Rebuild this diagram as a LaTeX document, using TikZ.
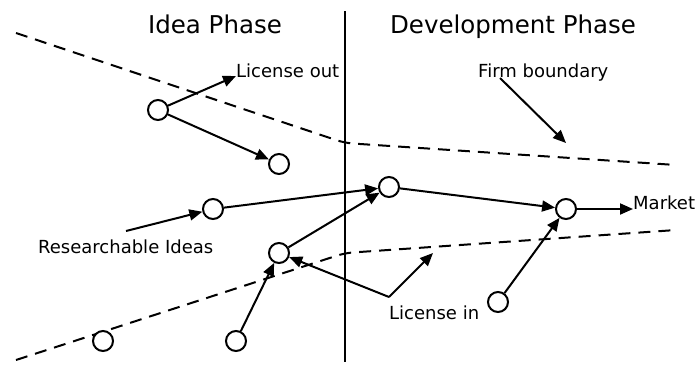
\documentclass[tikz,border=0pt]{standalone}
\usepackage{fontspec}
\setmainfont{DejaVu Sans}
\usetikzlibrary{arrows.meta}
\newcommand{\unitsize}{1pt}
\newcommand{\labelfont}{\fontsize{18}{21}\selectfont}
\newcommand{\titlefont}{\fontsize{24.5}{29}\selectfont}
\tikzset{
	idea/.style={circle, draw, line width=2pt, minimum size=20pt, inner sep=0pt, fill=white},
	flow/.style={line width=2pt, -{Triangle[length=13pt,width=11pt]}},
	boundary/.style={line width=2pt, dash pattern=on 12pt off 8pt, rounded corners=8pt},
	tag/.style={anchor=base west, inner sep=0pt, font=\labelfont},
	phase/.style={anchor=base, inner sep=0pt, font=\titlefont}
}

\begin{document}
\begin{tikzpicture}[x=\unitsize,y=-\unitsize]
	\useasboundingbox (0,0) rectangle (698,365);

	\coordinate (U1) at (16,33);
	\coordinate (U2) at (345,143);
	\coordinate (U3) at (676,165);
	\coordinate (W1) at (16,360);
	\coordinate (W2) at (345,253);
	\coordinate (W3) at (676,230);
	\coordinate (Top) at (345,11);
	\coordinate (Bot) at (345,362);

	\draw[boundary] (U1) -- (U2) -- (U3);
	\draw[boundary] (W1) -- (W2) -- (W3);
	\draw[line width=2pt] (Top) -- (Bot);

	\node[phase] (idea) at (215,33) {Idea Phase};
	\node[phase] (dev) at (513,33) {Development Phase};

	\node[idea] (A) at (158,110) {};
	\node[idea] (B) at (279,164) {};
	\node[idea] (C) at (213,209) {};
	\node[idea] (D) at (389,187) {};
	\node[idea] (E) at (279,253) {};
	\node[idea] (F) at (103,341) {};
	\node[idea] (G) at (236,341) {};
	\node[idea] (H) at (566,209) {};
	\node[idea] (I) at (498,302) {};

	\node[tag] (lout) at (236,77) {License out};
	\node[tag] (firm) at (478,77) {Firm boundary};
	\node[tag] (market) at (633,209) {Market};
	\node[tag] (lin) at (389,319) {License in};
	\node[tag] (ideas) at (38,253) {Researchable Ideas};

	\coordinate (LoutTip) at (236,76);
	\coordinate (FirmStart) at (500,78);
	\coordinate (FirmTip) at (566,143);
	\coordinate (IdeasStart) at (126,231);
	\coordinate (MarketTip) at (633,209);
	\coordinate (LinCorner) at (389,297);
	\coordinate (LinTip) at (433,253);

	\draw[flow] (A) -- (LoutTip);
	\draw[flow] (A) -- (B);
	\draw[flow] (FirmStart) -- (FirmTip);
	\draw[flow] (IdeasStart) -- (C);
	\draw[flow] (C) -- (D);
	\draw[flow] (E) -- (D);
	\draw[flow] (G) -- (E);
	\draw[flow] (D) -- (H);
	\draw[flow] (I) -- (H);
	\draw[flow] (H) -- (MarketTip);
	\draw[flow] (LinCorner) -- (E);
	\draw[flow] (LinCorner) -- (LinTip);
\end{tikzpicture}
\end{document}
